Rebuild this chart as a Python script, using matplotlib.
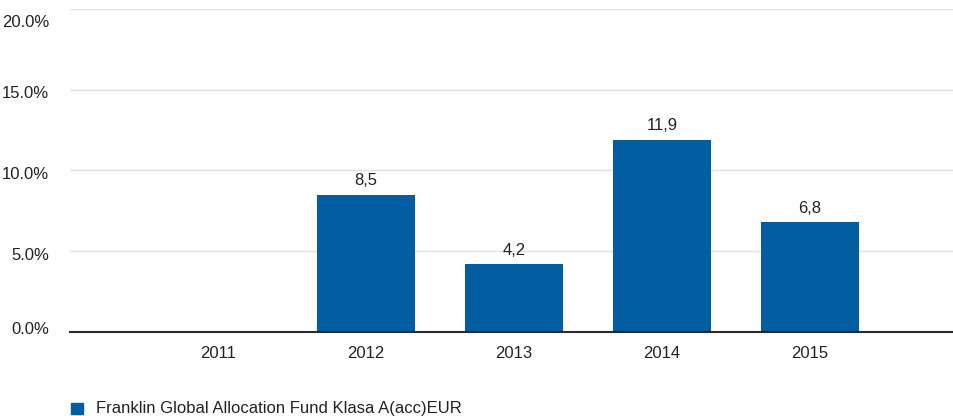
import matplotlib.pyplot as plt
import matplotlib.font_manager as fm
import matplotlib.transforms as mtransforms
from matplotlib.patches import Rectangle

years = ["2011", "2012", "2013", "2014", "2015"]
returns = [None, 8.5, 4.2, 11.9, 6.8]
yticks = [0, 5, 10, 15, 20]
series_name = "Franklin Global Allocation Fund Klasa A(acc)EUR"
bar_color = "#035da1"

names = {f.name for f in fm.fontManager.ttflist}
family = "Liberation Sans Narrow" if "Liberation Sans Narrow" in names else "Liberation Sans"
plt.rcParams["font.family"] = [family, "DejaVu Sans"]
fs = 13 if family == "Liberation Sans Narrow" else 12

fig = plt.figure(figsize=(9.54, 4.16), dpi=100)
ax_w = 958 - 70
ax = fig.add_axes([70 / 954, 1 - 332 / 416, ax_w / 954, (332 - 9) / 416])

x = list(range(len(years)))
for xi, v in zip(x, returns):
    if v is None:
        continue
    ax.bar(xi, v, width=0.66, color=bar_color, zorder=2)
    ax.text(xi, v + 0.4, f"{v:.1f}".replace(".", ","), ha="center", va="bottom",
            fontsize=fs, color="#222222")

ax.set_xlim(-1, 5)
ax.set_ylim(0, 20)
ax.set_xticks(x)
ax.set_xticklabels(years, fontsize=fs, color="#222222")
ax.tick_params(length=0, pad=10)
ax.set_yticks(yticks)
ax.set_yticklabels([])

# y labels: right-aligned, sitting a little below their gridline,
# top one pushed down into view, bottom one nudged up
ytrans = mtransforms.blended_transform_factory(ax.transAxes, ax.transData)
for t in yticks:
    if t == yticks[-1]:
        dy = -13.5
    elif t == yticks[0]:
        dy = 3
    else:
        dy = -4
    tr = ytrans + mtransforms.ScaledTranslation(0, dy / 100, fig.dpi_scale_trans)
    ax.text((49 - 70) / ax_w, t, f"{t:.1f}%", transform=tr, ha="right", va="center",
            fontsize=fs, color="#222222", clip_on=False)

ax.grid(axis="y", color="#e2e2e2", linewidth=1, zorder=0)
for s in ["top", "right", "left"]:
    ax.spines[s].set_visible(False)
ax.spines["bottom"].set_color("#2a2a2a")
ax.spines["bottom"].set_linewidth(1.5)
ax.spines["bottom"].set_zorder(3)

fig.patches.append(Rectangle((71 / 954, 1 - 414 / 416), 12 / 954, 11 / 416,
                             transform=fig.transFigure, color=bar_color))
fig.text(96 / 954, 1 - 408 / 416, series_name, fontsize=fs, va="center", ha="left",
         color="#222222")

fig.savefig("out.png", dpi=100)
